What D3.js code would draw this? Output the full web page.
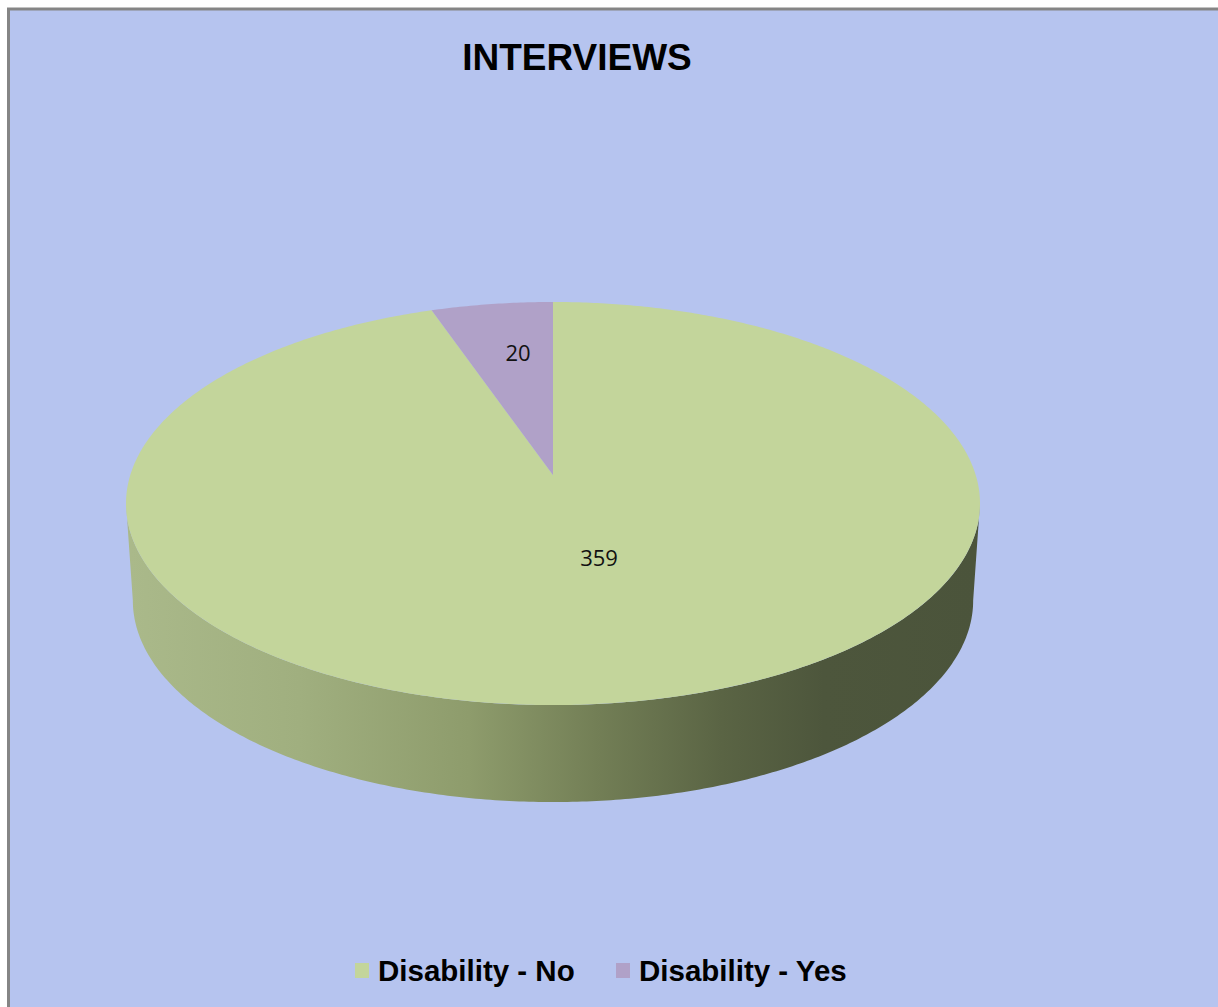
<!DOCTYPE html>
<html>
<head>
<meta charset="utf-8">
<script src="https://cdn.jsdelivr.net/npm/d3@7"></script>
<style>
  html, body { margin: 0; padding: 0; background: #ffffff; }
  svg { display: block; }
</style>
</head>
<body>
<svg id="chart" width="1218" height="1007"></svg>
<script>
// chart data
const categories = ["Disability - No", "Disability - Yes"];
const values = [359, 20];
const sliceColors = ["#c3d59b", "#b0a1c8"];
const chartTitle = "INTERVIEWS";

const width = 1218, height = 1007;
const svg = d3.select("#chart");

// pie geometry: disc seen in perspective (far side compressed)
const cx = 553, cy = 475;      // projected centre of the disc
const A = 422.7, B = 197.5;    // horizontal / vertical half axes
const persp = 0.1415;          // perspective foreshortening
const depth = 97, bottomScale = 0.984;

// background + frame
svg.append("rect")
  .attr("x", 8.5).attr("y", 9)
  .attr("width", width + 20).attr("height", height + 20)
  .attr("fill", "#b6c4ef")
  .attr("stroke", "#858585")
  .attr("stroke-width", 3);

svg.append("text")
  .attr("x", 577).attr("y", 70)
  .attr("text-anchor", "middle")
  .style("font-family", "Arial, 'Liberation Sans', sans-serif")
  .style("font-weight", "bold")
  .style("font-size", "37px")
  .attr("fill", "#000")
  .text(chartTitle);

const pie = d3.pie().sort(null).startAngle(0).endAngle(2 * Math.PI);
const slices = pie(values);

// point on the disc rim, angle clockwise from 12 o'clock, r in [0,1]
function pt(a, r, bottom) {
  const u = r * Math.sin(a), v = r * Math.cos(a);
  const k = 1 + persp * v;
  const sx = bottom ? A * bottomScale : A;
  return [cx + sx * u / k, cy - B * v / k + (bottom ? depth : 0)];
}

function arcPoints(a0, a1, bottom) {
  const n = Math.max(2, Math.ceil(Math.abs(a1 - a0) / 0.01));
  return d3.range(n + 1).map(i => pt(a0 + (a1 - a0) * i / n, 1, bottom));
}

const defs = svg.append("defs");
const grad = defs.append("linearGradient")
  .attr("id", "sideGrad")
  .attr("gradientUnits", "userSpaceOnUse")
  .attr("x1", cx - A).attr("x2", cx + A)
  .attr("y1", 0).attr("y2", 0);
[[0, "#aab98a"], [0.2, "#a0af7f"], [0.4, "#8e9c6c"], [0.55, "#737f56"],
 [0.7, "#5a6444"], [0.82, "#4d563c"], [1, "#4b543b"]]
  .forEach(([o, c]) => grad.append("stop").attr("offset", o).attr("stop-color", c));

// side walls: only the front part between the two silhouette points
const edge = Math.acos(-persp);
const line = d3.line();
slices.forEach(s => {
  const a0 = Math.max(s.startAngle, edge);
  const a1 = Math.min(s.endAngle, 2 * Math.PI - edge);
  if (a1 <= a0) return;
  const top = arcPoints(a0, a1, false);
  const bottom = arcPoints(a1, a0, true);
  svg.append("path")
    .attr("d", line(top.concat(bottom)) + "Z")
    .attr("fill", "url(#sideGrad)");
});

// top faces
slices.forEach((s, i) => {
  const pts = [pt(0, 0, false)].concat(arcPoints(s.startAngle, s.endAngle, false));
  svg.append("path")
    .attr("d", line(pts) + "Z")
    .attr("fill", sliceColors[i]);
});

// data labels (fraction of radius along the mid angle, x and y separately)
const labelFrac = [[0.66, 0.42], [0.5, 0.63]];
slices.forEach((s, i) => {
  const mid = (s.startAngle + s.endAngle) / 2;
  const lx = cx + A * labelFrac[i][0] * Math.sin(mid);
  const ly = cy - B * labelFrac[i][1] * Math.cos(mid);
  svg.append("text")
    .attr("x", lx).attr("y", ly)
    .attr("text-anchor", "middle")
    .attr("dominant-baseline", "central")
    .style("font-family", "'Open Sans', 'Noto Sans', sans-serif")
    .style("font-size", "22px")
    .attr("fill", "#111")
    .text(s.data);
});

// legend
const legendX = [355, 616];
const legend = svg.append("g");
categories.forEach((c, i) => {
  legend.append("rect")
    .attr("x", legendX[i]).attr("y", 963)
    .attr("width", 14).attr("height", 15)
    .attr("fill", sliceColors[i]);
  legend.append("text")
    .attr("x", legendX[i] + 23).attr("y", 981)
    .style("font-family", "Arial, 'Liberation Sans', sans-serif")
    .style("font-weight", "bold")
    .style("font-size", "29.5px")
    .attr("fill", "#000")
    .text(c);
});
</script>
</body>
</html>
